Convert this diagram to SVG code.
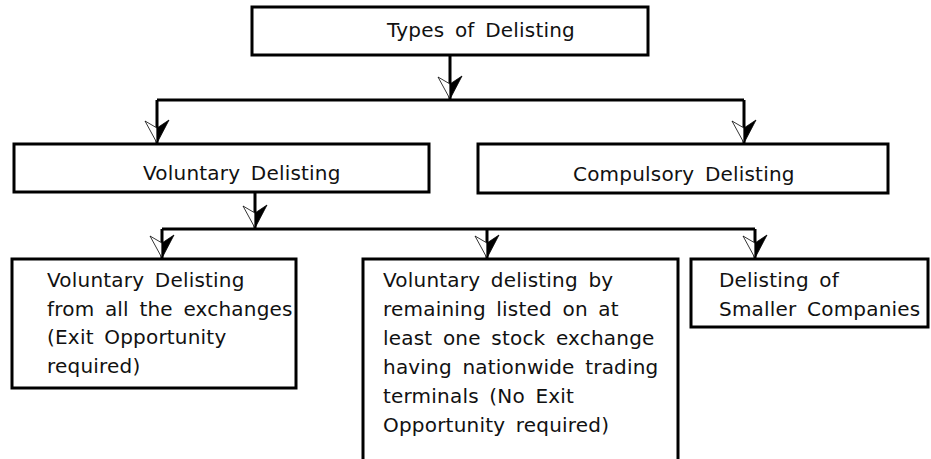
<svg xmlns="http://www.w3.org/2000/svg" width="931" height="459" viewBox="0 0 931 459">
<defs>
<style>
.box{fill:#fff;stroke:#000;stroke-width:3}
.t{font-family:"DejaVu Sans","Liberation Sans",sans-serif;font-size:20px;letter-spacing:0.2px;word-spacing:4px;fill:#111}
.ln{fill:none;stroke:#000;stroke-width:3}
.aw{fill:#fff;stroke:#000;stroke-width:0.8}
.ab{fill:#000;stroke:#000;stroke-width:0.8}
</style>
<g id="arrow">
<polygon class="aw" points="0,0 -12,-22 0,-15"/>
<polygon class="ab" points="0,0 12,-23 0,-15"/>
</g>
</defs>
<rect width="931" height="459" fill="#fff"/>
<g id="connectors">
<path class="ln" d="M450,55 V100 M157,100 H744 M157,100 V144 M744,100 V144"/>
<path class="ln" d="M255,192 V229 M162,229 H755 M162,229 V259 M487,229 V259 M755,229 V259"/>
<use href="#arrow" x="450" y="99"/>
<use href="#arrow" x="157" y="143"/>
<use href="#arrow" x="744" y="143"/>
<use href="#arrow" x="255" y="228"/>
<use href="#arrow" x="162" y="258"/>
<use href="#arrow" x="487" y="258"/>
<use href="#arrow" x="755" y="258"/>
</g>
<g id="types">
<rect class="box" x="252" y="7" width="396" height="48"/>
<text class="t" x="387" y="37">Types of Delisting</text>
</g>
<g id="voluntary">
<rect class="box" x="14" y="144" width="415" height="48"/>
<text class="t" x="143" y="180">Voluntary Delisting</text>
</g>
<g id="compulsory">
<rect class="box" x="478" y="144" width="410" height="49"/>
<text class="t" x="573" y="181">Compulsory Delisting</text>
</g>
<g id="all-exchanges">
<rect class="box" x="12" y="259" width="284" height="129"/>
<text class="t" x="47" y="287">Voluntary Delisting</text>
<text class="t" x="47" y="316">from all the exchanges</text>
<text class="t" x="47" y="344">(Exit Opportunity</text>
<text class="t" x="47" y="373">required)</text>
</g>
<g id="remaining-listed">
<rect class="box" x="363" y="259" width="315" height="215"/>
<text class="t" x="383" y="287">Voluntary delisting by</text>
<text class="t" x="383" y="316">remaining listed on at</text>
<text class="t" x="383" y="345">least one stock exchange</text>
<text class="t" x="383" y="374">having nationwide trading</text>
<text class="t" x="383" y="403">terminals (No Exit</text>
<text class="t" x="383" y="432">Opportunity required)</text>
</g>
<g id="smaller">
<rect class="box" x="691" y="259" width="237" height="68"/>
<text class="t" x="719" y="287">Delisting of</text>
<text class="t" x="719" y="316">Smaller Companies</text>
</g>
</svg>
